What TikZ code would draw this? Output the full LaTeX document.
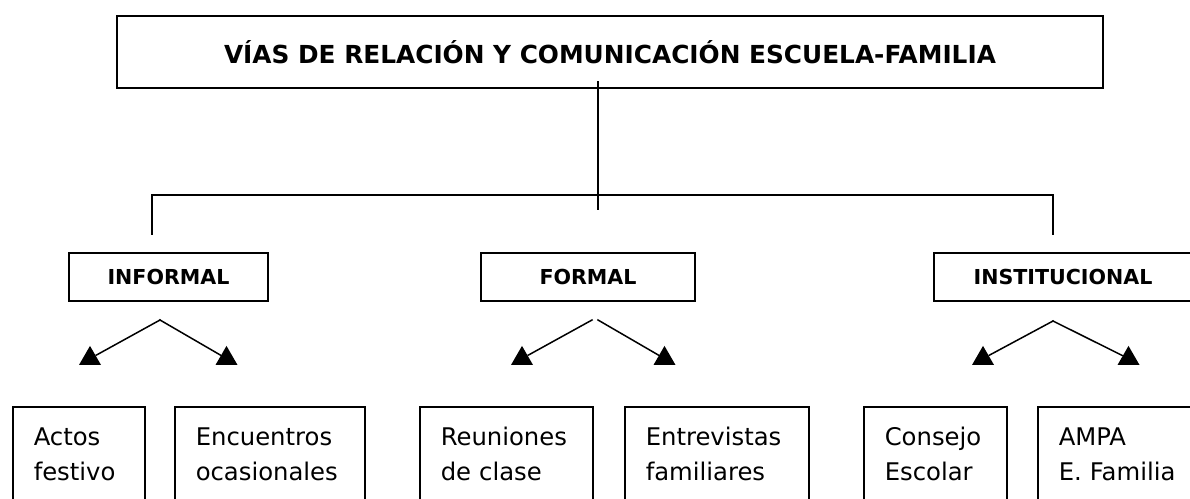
\documentclass[tikz,border=0pt]{standalone}
\usepackage{fontspec}
\setmainfont{DejaVu Sans}
\usetikzlibrary{shapes.geometric}

\begin{document}
\begin{tikzpicture}[x=1pt,y=-1pt,line width=1.5pt,line cap=rect,
        groupbox/.style={draw, minimum height=48pt, inner sep=0pt,
            font=\bfseries\fontsize{20.6}{25}\selectfont},
        leafbox/.style={draw, anchor=north west, align=left, inner xsep=21pt,
            inner ysep=0pt, text height=38.5pt, text depth=100pt,
            font=\fontsize{24.3}{35}\selectfont},
        tip/.style={regular polygon, regular polygon sides=3, fill=black,
            draw=none, inner sep=0pt, minimum size=25.4pt}]
        % fix the page and cut the boxes at its edge
        \useasboundingbox (0,0) rectangle (1190,498);
        \clip (0,0) rectangle (1190,498);

        % draw the title
        \node[draw, minimum width=986pt, minimum height=72pt, inner sep=0pt,
              font=\bfseries\fontsize{24.8}{30}\selectfont] (title) at (610,52)
              {VÍAS DE RELACIÓN Y COMUNICACIÓN ESCUELA-FAMILIA};

        % draw the three ways
        \node[groupbox, minimum width=199pt] (informal) at (168.5,277) {INFORMAL};
        \node[groupbox, minimum width=214pt] (formal) at (588,277) {FORMAL};
        \node[groupbox, minimum width=258pt] (instit) at (1063,277) {INSTITUCIONAL};

        % the branching lines under the title
        \coordinate (stemtop) at (598,82);
        \coordinate (stembot) at (598,209);
        \coordinate (barl) at (152,195);
        \coordinate (barr) at (1053,195);
        \coordinate (dropl) at (152,234);
        \coordinate (dropr) at (1053,234);
        \draw (stemtop) -- (stembot);
        \draw (dropl) -- (barl) -- (barr) -- (dropr);

        % draw the arrow heads
        \node[tip] (ta) at (90,358.6) {};
        \node[tip] (tb) at (226.5,358.6) {};
        \node[tip] (tc) at (522,358.6) {};
        \node[tip] (td) at (664.5,358.6) {};
        \node[tip] (te) at (983,358.6) {};
        \node[tip] (tf) at (1128.5,358.6) {};

        % and the arrows
        \coordinate (infapex) at (160,320);
        \coordinate (forapexl) at (592,320);
        \coordinate (forapexr) at (598,320);
        \coordinate (insapex) at (1053,321);
        \draw (infapex) -- (ta);
        \draw (infapex) -- (tb);
        \draw (forapexl) -- (tc);
        \draw (forapexr) -- (td);
        \draw (insapex) -- (te);
        \draw (insapex) -- (tf);

        % draw the bottom boxes
        \node[leafbox, text width=90pt] (actos) at (12,406) {Actos\\festivo};
        \node[leafbox, text width=148pt] (encuentros) at (174,406) {Encuentros\\ocasionales};
        \node[leafbox, text width=131pt] (reuniones) at (419,406) {Reuniones\\de clase};
        \node[leafbox, text width=142pt] (entrevistas) at (624,406) {Entrevistas\\familiares};
        \node[leafbox, text width=101pt] (consejo) at (863,406) {Consejo\\Escolar};
        \node[leafbox, text width=160pt] (ampa) at (1037,406) {AMPA\\E. Familia};
\end{tikzpicture}
\end{document}
